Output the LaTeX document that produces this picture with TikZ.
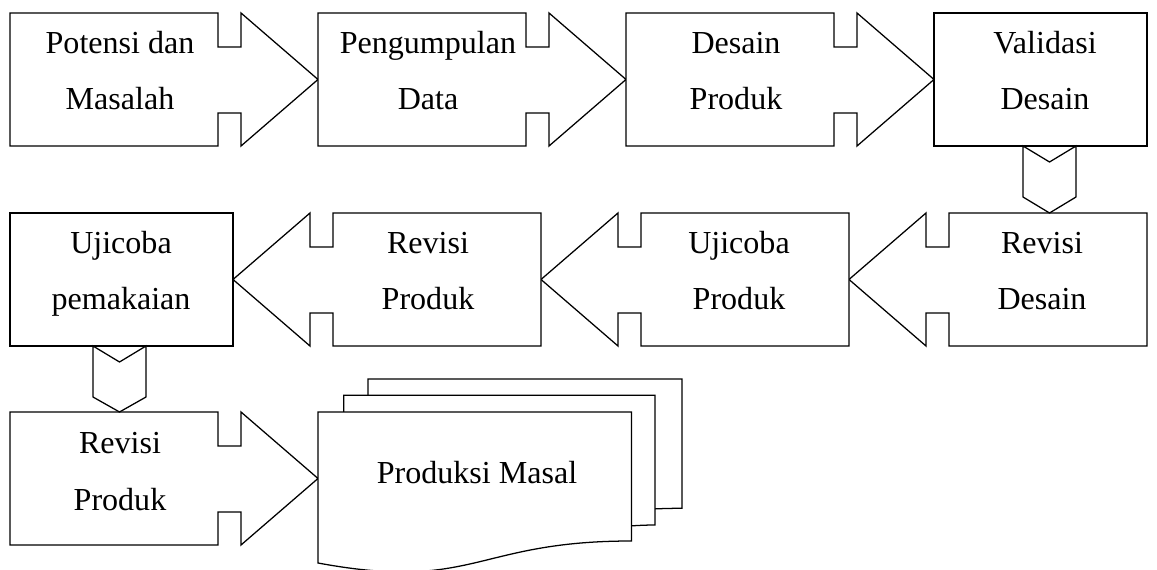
\documentclass[tikz,border=0pt]{standalone}
\usepackage{fontspec}
\setmainfont{Liberation Serif}
\usepackage{tikz}
\usepackage{xcolor}
\definecolor{edgec}{HTML}{000000}
\tikzset{
  stage/.style={draw=edgec, fill=white, line width=0.9pt, line join=miter},
  chevron/.style={draw=edgec, fill=white, line width=0.9pt, line join=miter},
  sheet/.style={draw=edgec, fill=white, line width=0.9pt, line join=miter},
  caption/.style={font=\fontsize{22.8}{40.5}\selectfont, align=center, anchor=base, inner sep=0pt},
}

\begin{document}
\begin{tikzpicture}
\useasboundingbox (0,0) rectangle (28.925,14.225);
\draw[stage] (0.250,13.900) -- (5.450,13.900) -- (5.450,13.050) -- (6.025,13.050) -- (6.025,13.900) -- (7.950,12.238) -- (6.025,10.575) -- (6.025,11.400) -- (5.450,11.400) -- (5.450,10.575) -- (0.250,10.575) -- cycle;
\draw[stage] (7.950,13.900) -- (13.150,13.900) -- (13.150,13.050) -- (13.725,13.050) -- (13.725,13.900) -- (15.650,12.238) -- (13.725,10.575) -- (13.725,11.400) -- (13.150,11.400) -- (13.150,10.575) -- (7.950,10.575) -- cycle;
\draw[stage] (15.650,13.900) -- (20.850,13.900) -- (20.850,13.050) -- (21.425,13.050) -- (21.425,13.900) -- (23.350,12.238) -- (21.425,10.575) -- (21.425,11.400) -- (20.850,11.400) -- (20.850,10.575) -- (15.650,10.575) -- cycle;
\draw[stage] (23.350,13.900) rectangle (28.675,10.575);
\draw[stage] (28.675,8.900) -- (23.725,8.900) -- (23.725,8.050) -- (23.150,8.050) -- (23.150,8.900) -- (21.225,7.238) -- (23.150,5.575) -- (23.150,6.400) -- (23.725,6.400) -- (23.725,5.575) -- (28.675,5.575) -- cycle;
\draw[stage] (21.225,8.900) -- (16.025,8.900) -- (16.025,8.050) -- (15.450,8.050) -- (15.450,8.900) -- (13.525,7.238) -- (15.450,5.575) -- (15.450,6.400) -- (16.025,6.400) -- (16.025,5.575) -- (21.225,5.575) -- cycle;
\draw[stage] (13.525,8.900) -- (8.325,8.900) -- (8.325,8.050) -- (7.750,8.050) -- (7.750,8.900) -- (5.825,7.238) -- (7.750,5.575) -- (7.750,6.400) -- (8.325,6.400) -- (8.325,5.575) -- (13.525,5.575) -- cycle;
\draw[stage] (0.250,8.900) rectangle (5.825,5.575);
\draw[stage] (0.250,3.925) -- (5.450,3.925) -- (5.450,3.075) -- (6.025,3.075) -- (6.025,3.925) -- (7.950,2.263) -- (6.025,0.600) -- (6.025,1.425) -- (5.450,1.425) -- (5.450,0.600) -- (0.250,0.600) -- cycle;
\draw[chevron] (25.575,10.575) -- (26.238,10.175) -- (26.900,10.575) -- (26.900,9.300) -- (26.238,8.900) -- (25.575,9.300) -- cycle;
\draw[chevron] (2.325,5.575) -- (2.988,5.175) -- (3.650,5.575) -- (3.650,4.300) -- (2.988,3.925) -- (2.325,4.300) -- cycle;
\draw[sheet] (9.200,4.750) -- (17.050,4.750) -- (17.050,1.518) .. controls (16.713,1.518) and (16.375,1.503) .. (16.375,1.503) -- (9.200,1.503) -- cycle;
\draw[sheet] (8.595,4.343) -- (16.375,4.343) -- (16.375,1.100) .. controls (16.080,1.100) and (15.785,1.078) .. (15.785,1.078) -- (8.595,1.078) -- cycle;
\draw[sheet] (7.950,3.925) -- (15.785,3.925) -- (15.785,0.700) .. controls (11.868,0.700) and (11.868,-0.575) .. (7.950,0.150) -- cycle;
\node[caption] (potensi) at (3.000,11.475) {Potensi dan\\Masalah};
\node[caption] (kumpul) at (10.700,11.475) {Pengumpulan\\Data};
\node[caption] (desain) at (18.400,11.475) {Desain\\Produk};
\node[caption] (validasi) at (26.125,11.475) {Validasi\\Desain};
\node[caption] (revdesain) at (26.050,6.475) {Revisi\\Desain};
\node[caption] (ujiproduk) at (18.475,6.475) {Ujicoba\\Produk};
\node[caption] (revproduk) at (10.700,6.475) {Revisi\\Produk};
\node[caption] (ujipakai) at (3.025,6.475) {Ujicoba\\pemakaian};
\node[caption] (revakhir) at (3.000,1.475) {Revisi\\Produk};
\node[caption] (masal) at (11.925,2.150) {Produksi Masal};
\end{tikzpicture}
\end{document}
